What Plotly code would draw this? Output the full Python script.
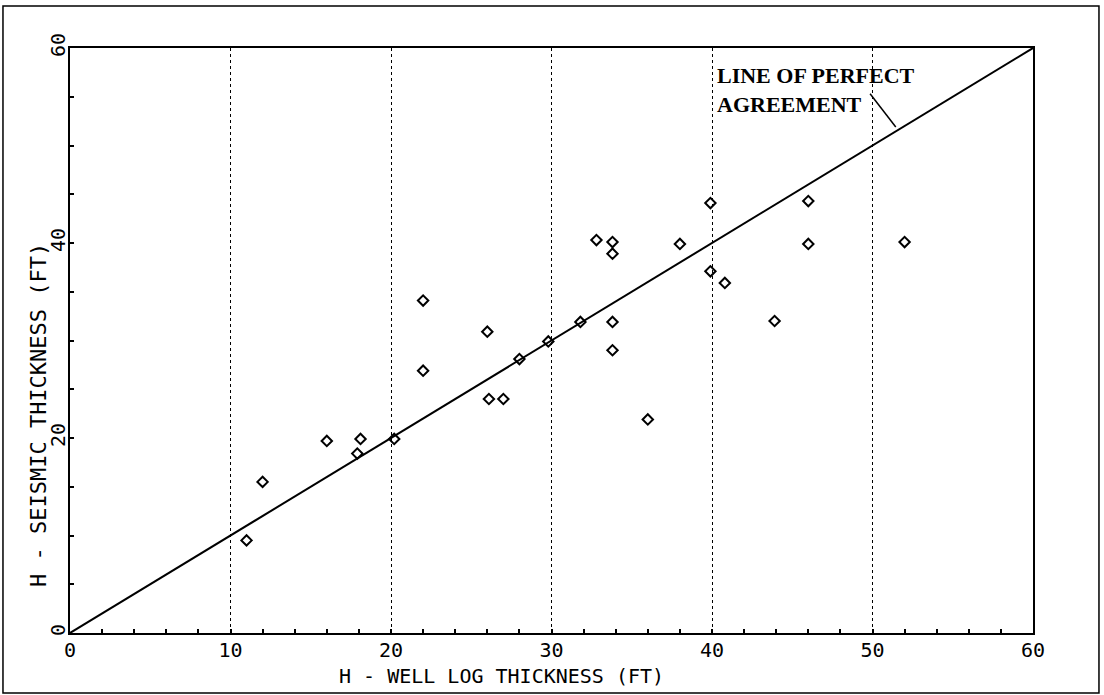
import plotly.graph_objects as go

# Data
well_log = [11, 12, 16, 17.9, 18.1, 20.2, 22, 22, 26, 26.1, 27, 28, 29.8, 31.8,
            32.8, 33.8, 33.8, 33.8, 33.8, 36, 38, 39.9, 39.9, 40.8, 43.9, 46, 46, 52]
seismic = [9.5, 15.5, 19.7, 18.4, 19.9, 19.9, 34.1, 26.9, 30.9, 24, 24, 28.1, 29.9, 31.9,
           40.3, 40.1, 38.9, 31.9, 29.0, 21.9, 39.9, 44.1, 37.1, 35.9, 32, 44.3, 39.9, 40.1]
perfect_x = [0, 60]
perfect_y = [0, 60]
tick_vals = [0, 10, 20, 30, 40, 50, 60]
y_tick_vals = [0, 20, 40, 60]

MONO = "DejaVu Sans Mono"
SERIF = "Liberation Serif"

fig = go.Figure()
fig.add_trace(go.Scatter(x=perfect_x, y=perfect_y, mode="lines",
                         line=dict(color="black", width=2), showlegend=False,
                         hoverinfo="skip"))
fig.add_trace(go.Scatter(x=well_log, y=seismic, mode="markers",
                         marker=dict(symbol="diamond-open", size=8, color="black",
                                     line=dict(width=2, color="black")),
                         showlegend=False))

fig.update_layout(
    width=1104, height=695,
    margin=dict(l=70, r=71, t=48, b=62),
    paper_bgcolor="white", plot_bgcolor="white",
    font=dict(family=MONO, size=20, color="black"),
)
fig.update_xaxes(
    range=[0, 60], tickvals=tick_vals, ticks="inside", ticklen=4, tickwidth=1.5,
    tickcolor="black", showline=True, linecolor="black", linewidth=2, mirror=True,
    showgrid=True, gridcolor="black", gridwidth=1, griddash="dot",
    zeroline=False, ticklabelstandoff=-2,
    tickfont=dict(family=MONO, size=20),
    minor=dict(dtick=2, ticks="inside", ticklen=4, tickwidth=1.5, tickcolor="black",
               showgrid=False),
)
fig.update_yaxes(
    range=[0, 60], tickvals=y_tick_vals, ticks="inside", ticklen=4, tickwidth=1.5,
    tickcolor="black", showline=True, linecolor="black", linewidth=2, mirror=True,
    showgrid=False, zeroline=False, tickangle=-90, ticklabelstandoff=-5,
    tickfont=dict(family=MONO, size=20),
    minor=dict(dtick=5, ticks="inside", ticklen=4, tickwidth=1.5, tickcolor="black",
               showgrid=False),
)

# Axis titles
fig.add_annotation(text="H - WELL LOG THICKNESS (FT)", xref="paper", yref="paper",
                   x=0.4476, y=-0.0735, xanchor="center", yanchor="middle",
                   showarrow=False, font=dict(family=MONO, size=20))
fig.add_annotation(text="H - SEISMIC THICKNESS (FT)", xref="paper", yref="paper",
                   x=-0.0332, y=0.3726, xanchor="center", yanchor="middle",
                   textangle=-90, showarrow=False, font=dict(family=MONO, size=22))

# Label for the line of perfect agreement
fig.add_annotation(text="<b>LINE OF PERFECT<br>AGREEMENT</b>", x=40.2, y=55.72,
                   xanchor="left", yanchor="middle", align="left", showarrow=False,
                   font=dict(family=SERIF, size=22, color="black"))
fig.add_shape(type="line", x0=49.85, y0=55.3, x1=51.45, y1=51.9,
              line=dict(color="black", width=1.5))

# Outer frame
fig.add_shape(type="rect", xref="paper", yref="paper",
              x0=-0.0696, x1=1.0685, y0=-0.1026, y1=1.0718,
              line=dict(color="black", width=1.5))

fig.write_html("out.html")
